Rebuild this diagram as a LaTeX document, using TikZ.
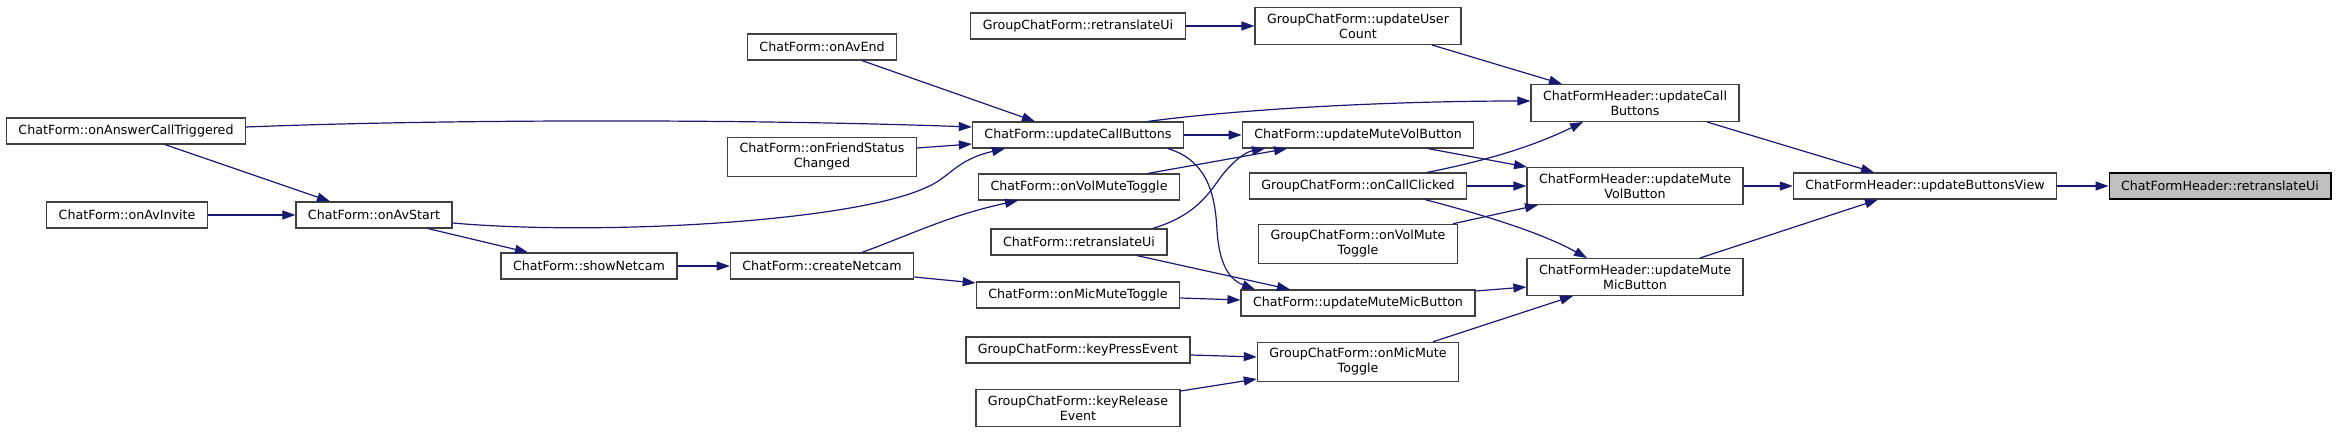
\documentclass[tikz,border=0pt]{standalone}
\usepackage{fontspec}
\setmainfont{DejaVu Sans}
\usetikzlibrary{arrows.meta,calc}
\definecolor{edgeblue}{HTML}{191970}
\definecolor{nodeborder}{HTML}{404040}
\definecolor{rootfill}{HTML}{BFBFBF}
\begin{document}
\begin{tikzpicture}[x=1pt,y=-1pt,
  fn/.style={draw=nodeborder,line width=1.2pt,fill=white,rectangle,align=center,
    inner xsep=12pt,inner ysep=6pt,minimum height=26pt,
    font=\fontsize{12.65pt}{15pt}\selectfont},
  rootfn/.style={fn,fill=rootfill,draw=black},
  call/.style={draw=edgeblue,line width=1.2pt,-{Triangle[length=13pt,width=9pt]},color=edgeblue}]
\useasboundingbox (0,0) rectangle (2337,435);

\node[fn] (answer) at (126,131) {ChatForm::onAnswerCallTriggered};
\node[fn] (avinvite) at (127,215) {ChatForm::onAvInvite};
\node[fn] (avstart) at (374,215) {ChatForm::onAvStart};
\node[fn] (shownet) at (589,266) {ChatForm::showNetcam};
\node[fn] (avend) at (822,47) {ChatForm::onAvEnd};
\node[fn] (friend) at (822,157) {ChatForm::onFriendStatus\\Changed};
\node[fn] (createnet) at (822,266) {ChatForm::createNetcam};
\node[fn] (grpretr) at (1078,26) {GroupChatForm::retranslateUi};
\node[fn] (cfupdcall) at (1078,135) {ChatForm::updateCallButtons};
\node[fn] (volmute) at (1079,187) {ChatForm::onVolMuteToggle};
\node[fn] (cfretr) at (1079,242) {ChatForm::retranslateUi};
\node[fn] (micmute) at (1078,295) {ChatForm::onMicMuteToggle};
\node[fn] (keypress) at (1078,350) {GroupChatForm::keyPressEvent};
\node[fn] (keyrel) at (1078,408) {GroupChatForm::keyRelease\\Event};
\node[fn] (usercount) at (1358,26) {GroupChatForm::updateUser\\Count};
\node[fn] (updmutevol) at (1358,135) {ChatForm::updateMuteVolButton};
\node[fn] (callclicked) at (1358,186) {GroupChatForm::onCallClicked};
\node[fn] (grpvolmute) at (1358,244) {GroupChatForm::onVolMute\\Toggle};
\node[fn] (updmutemic) at (1358,303) {ChatForm::updateMuteMicButton};
\node[fn] (grpmicmute) at (1358,362) {GroupChatForm::onMicMute\\Toggle};
\node[fn] (hdrcall) at (1635,103) {ChatFormHeader::updateCall\\Buttons};
\node[fn] (hdrvol) at (1635,186) {ChatFormHeader::updateMute\\VolButton};
\node[fn] (hdrmic) at (1635,277) {ChatFormHeader::updateMute\\MicButton};
\node[fn] (btnview) at (1925,186) {ChatFormHeader::updateButtonsView};
\node[rootfn] (root) at (2220,186) {ChatFormHeader::retranslateUi};

% edges
\draw[call] ($(answer.east)+(0,-4)$) .. controls (450,119) and (750,119) .. ($(cfupdcall.west)+(0,-8)$);
\draw[call] ($(answer.south)+(39,0)$) -- ($(avstart.north)+(-44,0)$);
\draw[call] (avinvite.east) -- (avstart.west);
\draw[call] ($(avstart.east)+(0,8)$) .. controls (600,236) and (850,222) .. (925,188)
   .. controls (950,178) and (955,160) .. ($(cfupdcall.south)+(-73,0)$);
\draw[call] ($(avstart.south)+(54,0)$) -- ($(shownet.north)+(-61,0)$);
\draw[call] (shownet.east) -- (createnet.west);
\draw[call] ($(createnet.north)+(40,0)$) .. controls (910,235) and (950,215) .. ($(volmute.south)+(-61,0)$);
\draw[call] ($(createnet.east)+(0,11)$) -- ($(micmute.west)+(0,-12)$);
\draw[call] ($(avend.south)+(40,0)$) -- ($(cfupdcall.north)+(-43,0)$);
\draw[call] ($(friend.east)+(0,-9)$) -- ($(cfupdcall.west)+(0,9)$);
\draw[call] (grpretr.east) -- (usercount.west);
\draw[call] ($(cfupdcall.north)+(70,0)$) .. controls (1250,108) and (1400,101) .. ($(hdrcall.west)+(0,-2)$);
\draw[call] (cfupdcall.east) -- (updmutevol.west);
\draw[call] ($(cfupdcall.south)+(90,0)$) .. controls (1205,160) and (1215,190) .. (1217,230)
   .. controls (1219,265) and (1230,280) .. ($(updmutemic.north)+(-103,0)$);
\draw[call] ($(volmute.north)+(69,0)$) -- ($(updmutevol.south)+(-71,0)$);
\draw[call] ($(cfretr.north)+(74,0)$) .. controls (1190,217) and (1205,200) .. (1220,178)
   .. controls (1232,162) and (1245,152) .. ($(updmutevol.south)+(-93,0)$);
\draw[call] ($(cfretr.south)+(58,0)$) -- ($(updmutemic.north)+(-68,0)$);
\draw[call] ($(micmute.east)+(0,3)$) -- ($(updmutemic.west)+(0,-3)$);
\draw[call] ($(keypress.east)+(0,5)$) -- ($(grpmicmute.west)+(0,-5)$);
\draw[call] ($(keyrel.east)+(0,-17)$) -- ($(grpmicmute.west)+(0,17)$);
\draw[call] ($(usercount.south)+(74,0)$) -- ($(hdrcall.north)+(-73,0)$);
\draw[call] ($(updmutevol.south)+(70,0)$) -- ($(hdrvol.north)+(-108,0)$);
\draw[call] ($(callclicked.north)+(69,0)$) .. controls (1480,162) and (1530,148) .. ($(hdrcall.south)+(-52,0)$);
\draw[call] (callclicked.east) -- (hdrvol.west);
\draw[call] ($(callclicked.south)+(67,0)$) .. controls (1480,214) and (1540,232) .. ($(hdrmic.north)+(-48,0)$);
\draw[call] ($(grpvolmute.north)+(95,0)$) -- ($(hdrvol.south)+(-97,0)$);
\draw[call] ($(updmutemic.east)+(0,-12)$) -- ($(hdrmic.west)+(0,10)$);
\draw[call] ($(grpmicmute.north)+(75,0)$) -- ($(hdrmic.south)+(-62,0)$);
\draw[call] ($(hdrcall.south)+(72,0)$) -- ($(btnview.north)+(-51,0)$);
\draw[call] (hdrvol.east) -- (btnview.west);
\draw[call] ($(hdrmic.north)+(65,0)$) -- ($(btnview.south)+(-47,0)$);
\draw[call] (btnview.east) -- (root.west);
\end{tikzpicture}
\end{document}
